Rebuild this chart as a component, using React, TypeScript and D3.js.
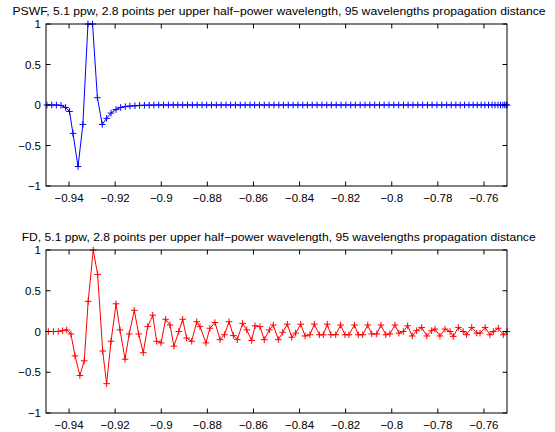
import React from "react";
import * as d3 from "d3";

// ---------- data ----------
const TITLE_PSWF =
  "PSWF, 5.1 ppw, 2.8 points per upper half\u2212power wavelength, 95 wavelengths propagation distance";
const TITLE_FD =
  "FD, 5.1 ppw, 2.8 points per upper half\u2212power wavelength, 95 wavelengths propagation distance";

const X_DOMAIN = [-0.95, -0.75];
const Y_DOMAIN = [-1, 1];
const X_TICKS = [-0.94, -0.92, -0.9, -0.88, -0.86, -0.84, -0.82, -0.8, -0.78, -0.76];
const X_TICK_LABELS = ["\u22120.94", "\u22120.92", "\u22120.9", "\u22120.88", "\u22120.86", "\u22120.84", "\u22120.82", "\u22120.8", "\u22120.78", "\u22120.76"];
const Y_TICKS = [-1, -0.5, 0, 0.5, 1];
const Y_TICK_LABELS = ["\u22121", "\u22120.5", "0", "0.5", "1"];

const PSWF_X = [
  -0.9496, -0.9475, -0.9455, -0.9435, -0.9415, -0.9398, -0.9383, -0.9361, -0.934, -0.9318,
  -0.9298, -0.9277, -0.9256, -0.9237, -0.9218, -0.9196, -0.9176, -0.9156, -0.9136, -0.9114,
  -0.9094, -0.9073, -0.9052, -0.9032, -0.9011, -0.899, -0.8969, -0.8948, -0.8928, -0.8907,
  -0.8886, -0.8865, -0.8844, -0.8823, -0.8803, -0.8782, -0.8761, -0.874, -0.8719, -0.8699,
  -0.8678, -0.8657, -0.8636, -0.8615, -0.8595, -0.8574, -0.8553, -0.8532, -0.8511, -0.849,
  -0.847, -0.8449, -0.8428, -0.8407, -0.8386, -0.8366, -0.8345, -0.8324, -0.8303, -0.8282,
  -0.8262, -0.8241, -0.822, -0.8199, -0.8178, -0.8158, -0.8137, -0.8116, -0.8095, -0.8074,
  -0.8053, -0.8033, -0.8012, -0.7991, -0.797, -0.7949, -0.7929, -0.7908, -0.7887, -0.7866,
  -0.7845, -0.7825, -0.7804, -0.7783, -0.7762, -0.7742, -0.7722, -0.7703, -0.7684, -0.7665,
  -0.7647, -0.7629, -0.7612, -0.7596, -0.758, -0.7565, -0.7552, -0.7539, -0.7528, -0.7518,
  -0.751, -0.7503, -0.75,
];
const PSWF_Y = [
  0, 0, 0, -0.005, -0.03, -0.08, -0.35, -0.76, -0.24, 1.0,
  1.0, 0.09, -0.24, -0.165, -0.1, -0.055, -0.03, -0.02, -0.013, -0.01,
  -0.005, -0.003, -0.002, -0.001, 0, 0, 0, 0, 0, 0,
  0, 0, 0, 0, 0, 0, 0, 0, 0, 0,
  0, 0, 0, 0, 0, 0, 0, 0, 0, 0,
  0, 0, 0, 0, 0, 0, 0, 0, 0, 0,
  0, 0, 0, 0, 0, 0, 0, 0, 0, 0,
  0, 0, 0, 0, 0, 0, 0, 0, 0, 0,
  0, 0, 0, 0, 0, 0, 0, 0, 0, 0,
  0, 0, 0, 0, 0, 0, 0, 0, 0, 0,
  0, 0, 0,
];

const FD_X = [
  -0.949, -0.9468, -0.9447, -0.9428, -0.941, -0.9392, -0.9374, -0.9353, -0.9334, -0.9317,
  -0.9295, -0.9276, -0.9254, -0.9237, -0.9218, -0.9196, -0.9179, -0.9157, -0.9139, -0.9117,
  -0.9098, -0.9078, -0.9059, -0.9037, -0.902, -0.9001, -0.8981, -0.8962, -0.8945, -0.8924,
  -0.8907, -0.889, -0.8868, -0.8846, -0.8832, -0.8806, -0.8789, -0.8767, -0.8745, -0.8726,
  -0.8706, -0.8687, -0.867, -0.8647, -0.8629, -0.8608, -0.8593, -0.8572, -0.8553, -0.8531,
  -0.8514, -0.8492, -0.8473, -0.8453, -0.8434, -0.8417, -0.8395, -0.8376, -0.8355, -0.8336,
  -0.8314, -0.8297, -0.828, -0.8264, -0.8243, -0.8222, -0.8203, -0.8186, -0.8162, -0.8145,
  -0.8126, -0.8104, -0.8087, -0.8065, -0.8047, -0.8026, -0.8008, -0.7986, -0.7969, -0.795,
  -0.7931, -0.7911, -0.7892, -0.787, -0.7848, -0.7827, -0.7812, -0.7791, -0.7769, -0.7747,
  -0.7733, -0.7711, -0.769, -0.7675, -0.7653, -0.7631, -0.7617, -0.7595, -0.7574, -0.7559,
  -0.7538, -0.7516, -0.75,
];
const FD_Y = [
  0, 0, 0, 0.01, 0.02, -0.03, -0.3, -0.54, -0.36, 0.37,
  1.0, 0.7, -0.24, -0.64, -0.12, 0.34, 0.02, -0.34, -0.03, 0.26,
  -0.03, -0.26, 0.06, 0.2, -0.12, -0.14, 0.15, 0.08, -0.18, 0,
  0.15, -0.08, -0.12, 0.12, 0.06, -0.14, 0.04, 0.11, -0.1, -0.04,
  0.12, -0.05, -0.1, 0.1, 0.02, -0.11, 0.07, 0.06, -0.1, 0.02,
  0.08, -0.1, -0.01, 0.09, -0.07, -0.02, 0.09, -0.055, -0.04, 0.09,
  -0.04, -0.04, 0.09, -0.04, -0.04, 0.08, -0.04, -0.04, 0.08, -0.04,
  -0.04, 0.08, -0.03, -0.03, 0.08, -0.04, -0.03, 0.08, -0.02, 0,
  0.07, -0.055, 0.01, 0.05, -0.055, 0.01, 0.03, -0.055, 0.03, 0,
  -0.06, 0.05, 0, -0.04, 0.05, -0.02, -0.02, 0.05, -0.04, 0,
  0.04, -0.04, 0,
];

// ---------- layout ----------
const W = 555;
const H = 432;
const LEFT = 46;
const RIGHT = 507;
const FONT = "'Liberation Sans', Arial, Helvetica, sans-serif";

type PanelProps = {
  title: string;
  titleX: number;
  titleLen: number;
  titleY: number;
  top: number;
  bottom: number;
  xs: number[];
  ys: number[];
  color: string;
};

function Panel({ title, titleX, titleLen, titleY, top, bottom, xs, ys, color }: PanelProps) {
  const x = d3.scaleLinear().domain(X_DOMAIN).range([LEFT, RIGHT]);
  const y = d3.scaleLinear().domain(Y_DOMAIN).range([bottom, top]);
  const pts: [number, number][] = xs.map((v, i) => [v, ys[i]]);
  const line = d3
    .line<[number, number]>()
    .x((d) => x(d[0]))
    .y((d) => y(d[1]));
  const tl = 4.5;
  const m = 3.3;
  const markers = pts
    .map((d) => {
      const px = x(d[0]);
      const py = y(d[1]);
      return `M${px - m},${py}H${px + m}M${px},${py - m}V${py + m}`;
    })
    .join("");
  return (
    <g>
      <text
        x={titleX}
        y={titleY}
        fontSize={11}
        fontFamily={FONT}
        textLength={titleLen}
        lengthAdjust="spacingAndGlyphs"
        fill="#000"
      >
        {title}
      </text>
      <path d={line(pts) || ""} fill="none" stroke={color} strokeWidth={1} />
      <path d={markers} fill="none" stroke={color} strokeWidth={1} />
      <rect x={LEFT} y={top} width={RIGHT - LEFT} height={bottom - top} fill="none" stroke="#000" strokeWidth={1} />
      {X_TICKS.map((t, i) => (
        <g key={"x" + i}>
          <line x1={x(t)} x2={x(t)} y1={bottom} y2={bottom - tl} stroke="#000" />
          <line x1={x(t)} x2={x(t)} y1={top} y2={top + tl} stroke="#000" />
          <text
            x={x(t)}
            y={bottom + 16}
            fontSize={11.5}
            fontFamily={FONT}
            textAnchor="middle"
            fill="#000"
          >
            {X_TICK_LABELS[i]}
          </text>
        </g>
      ))}
      {Y_TICKS.map((t, i) => (
        <g key={"y" + i}>
          <line x1={LEFT} x2={LEFT + tl} y1={y(t)} y2={y(t)} stroke="#000" />
          <line x1={RIGHT} x2={RIGHT - tl} y1={y(t)} y2={y(t)} stroke="#000" />
          <text
            x={LEFT - 5}
            y={y(t) + 4}
            fontSize={11.5}
            fontFamily={FONT}
            textAnchor="end"
            fill="#000"
          >
            {Y_TICK_LABELS[i]}
          </text>
        </g>
      ))}
    </g>
  );
}

export default function App() {
  return (
    <svg
      width={W}
      height={H}
      viewBox={`0 0 ${W} ${H}`}
      style={{ position: "absolute", left: 0, top: 0, background: "#fff" }}
    >
      <rect x={0} y={0} width={W} height={H} fill="#fff" />
      <Panel
        title={TITLE_PSWF}
        titleX={12.5}
        titleLen={533}
        titleY={15}
        top={24}
        bottom={186}
        xs={PSWF_X}
        ys={PSWF_Y}
        color="#0000ff"
      />
      <Panel
        title={TITLE_FD}
        titleX={21.7}
        titleLen={514}
        titleY={241}
        top={250}
        bottom={413}
        xs={FD_X}
        ys={FD_Y}
        color="#ff0000"
      />
    </svg>
  );
}
